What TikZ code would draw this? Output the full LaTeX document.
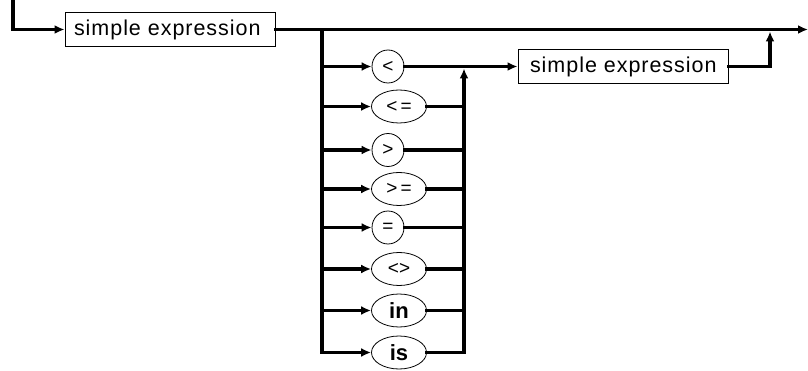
\documentclass[tikz,border=0pt]{standalone}
\usepackage{fontspec}
\setmainfont{Liberation Sans}
\usetikzlibrary{arrows.meta,shapes.geometric}
\begin{document}
\begin{tikzpicture}[x=1pt,y=-1pt,
  rail/.style={line width=3.8pt,line cap=rect,line join=miter},
  arr/.style={-{Latex[length=10pt,width=9pt]}},
  ntbox/.style={draw,line width=1pt,rectangle,minimum width=210pt,minimum height=34pt,inner sep=0pt,
    font=\fontsize{21.5}{24}\selectfont\addfontfeatures{LetterSpace=4.5}},
  term/.style={draw,line width=0.8pt,ellipse,minimum width=55pt,minimum height=33pt,inner sep=0pt,
    font=\fontsize{19}{22}\selectfont},
  termc/.style={term,minimum width=32pt},
  kw/.style={font=\fontsize{22}{25}\selectfont\bfseries}]
\useasboundingbox (0,0) rectangle (808,371);
% main rail
\coordinate (start) at (13,0);
\node[ntbox] (se1) at (170,29.5) {\makebox[210pt][l]{\hspace{9pt}simple expression}};
\coordinate (split) at (322,29.5);
\coordinate (join) at (770,29.5);
\coordinate (end) at (808,29.5);
\draw[rail,arr] (start) |- (se1.west);
\draw[rail,arr] (se1.east) -- (end);
% rows
\foreach \n/\y in {1/66.5,2/106.5,3/150,4/189,5/227.5,6/269,7/310.5,8/352.5}{
  \coordinate (l\n) at (322,\y);
  \coordinate (r\n) at (464,\y);
}
\node[termc] (t1) at (388,66.5) {<};
\node[term]  (t2) at (399,106.5) {<\,=};
\node[termc] (t3) at (388,150) {>};
\node[term]  (t4) at (399,189) {>\,=};
\node[termc] (t5) at (388,227.5) {=};
\node[term]  (t6) at (399,269) {<>};
\node[term,kw] (t7) at (399,310.5) {in};
\node[term,kw] (t8) at (399,352.5) {is};
\draw[rail] (split) -- (l8);
\foreach \n in {1,...,8}{
  \draw[rail,arr] (l\n) -- (t\n.west);
}
\foreach \n in {2,...,8}{
  \draw[rail] (t\n.east) -- (r\n);
}
\draw[rail] (r8) -- (r2);
\draw[rail,arr,shorten >=2pt] (r2) -- (r1);
% second simple expression
\node[ntbox] (se2) at (623,66.5) {\makebox[210pt][l]{\hspace{12pt}simple expression}};
\draw[rail,arr] (t1.east) -- (se2.west);
\draw[rail,arr,shorten >=2pt] (se2.east) -| (join);
\end{tikzpicture}
\end{document}
